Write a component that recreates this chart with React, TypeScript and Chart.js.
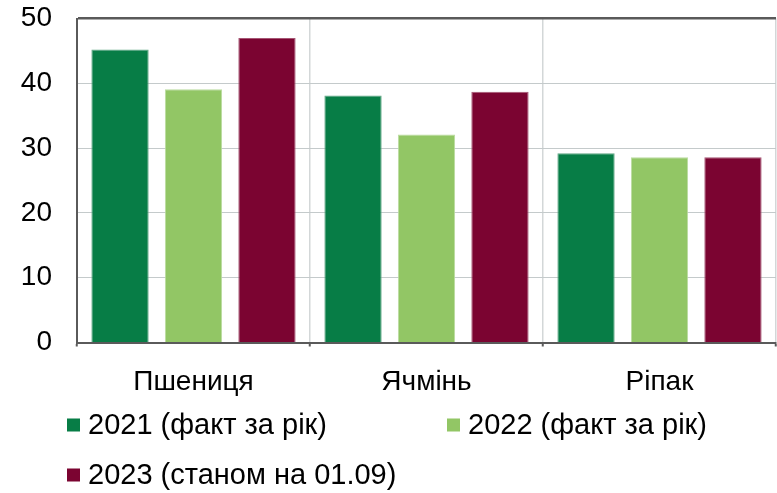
import React, { useEffect, useRef } from "react";
import { Chart, registerables } from "chart.js";

Chart.register(...registerables);

// Урожайність основних культур, ц/га
const crops = ["Пшениця", "Ячмінь", "Ріпак"];
const seriesNames = ["2021 (факт за рік)", "2022 (факт за рік)", "2023 (станом на 01.09)"];
const yield2021 = [45.2, 38.1, 29.2];
const yield2022 = [39.1, 32.1, 28.6];
const yield2023 = [47.0, 38.7, 28.6];
const yTicks = [0, 10, 20, 30, 40, 50];

const fills = ["#077D46", "#92C665", "#7B0431"];
const edges = ["#5FA683", "#BBDCA0", "#A55573"];

const FONT = "'Liberation Sans', Arial, sans-serif";
const FRAME = "#5A5A5A";

// Legend drawn below the axis in a two-column grid
const legendPlugin = {
  id: "gridLegend",
  afterDraw(chart: Chart) {
    const ctx = chart.ctx;
    const cols = [67, 447];
    const rows = [425, 475];
    const box = 13;
    ctx.save();
    ctx.font = `29px ${FONT}`;
    ctx.textBaseline = "middle";
    ctx.textAlign = "left";
    chart.data.datasets.forEach((ds: any, i: number) => {
      const x = cols[i % 2];
      const y = rows[Math.floor(i / 2)];
      ctx.fillStyle = ds.backgroundColor;
      ctx.fillRect(x, y - box / 2, box, box);
      ctx.fillStyle = "#000";
      ctx.fillText(ds.label, x + 21, y + 1);
    });
    ctx.restore();
  },
};

export default function App() {
  const canvasRef = useRef<HTMLCanvasElement | null>(null);

  useEffect(() => {
    document.body.style.margin = "0";
    const canvas = canvasRef.current;
    if (!canvas) return;
    const values = [yield2021, yield2022, yield2023];
    const chart = new Chart(canvas, {
      type: "bar",
      data: {
        labels: crops,
        datasets: values.map((v, i) => ({
          label: seriesNames[i],
          data: v,
          backgroundColor: fills[i],
          borderColor: edges[i],
          borderWidth: 1,
          categoryPercentage: 0.946,
          barPercentage: 0.78,
        })),
      },
      options: {
        responsive: false,
        animation: false,
        devicePixelRatio: 1,
        layout: { padding: { top: 18.5, right: 1, left: 0, bottom: 90 } },
        plugins: {
          legend: { display: false },
          tooltip: { enabled: false },
        },
        scales: {
          x: {
            grid: {
              offset: true,
              color: (c: any) => (c.index === crops.length ? "#6E6E6E" : "#D3D7D8"),
              lineWidth: (c: any) => (c.index === crops.length ? 2 : 1.5),
              drawTicks: true,
              tickLength: 4,
              tickColor: FRAME,
              tickWidth: 2,
            },
            border: { display: true, color: FRAME, width: 2 },
            ticks: { color: "#000", font: { family: FONT, size: 28 }, padding: 19 },
            afterFit: (s: any) => {
              s.height = 60.5;
              s.paddingLeft = 0;
              s.paddingRight = 0;
            },
          },
          y: {
            min: 0,
            max: 50,
            afterBuildTicks: (s: any) => {
              s.ticks = yTicks.map((v) => ({ value: v }));
            },
            grid: {
              color: (c: any) => (c.tick && c.tick.value === 50 ? FRAME : "#C4CACB"),
              lineWidth: (c: any) => (c.tick && c.tick.value === 50 ? 2.5 : 1),
              drawTicks: false,
            },
            border: { display: true, color: FRAME, width: 2 },
            ticks: { color: "#000", font: { family: FONT, size: 28 }, padding: 25 },
            afterFit: (s: any) => {
              s.width = 77;
              s.paddingTop = 0;
              s.paddingBottom = 0;
            },
          },
        },
      },
      plugins: [legendPlugin],
    });
    return () => chart.destroy();
  }, []);

  return <canvas ref={canvasRef} width={777} height={493} style={{ display: "block" }} />;
}
